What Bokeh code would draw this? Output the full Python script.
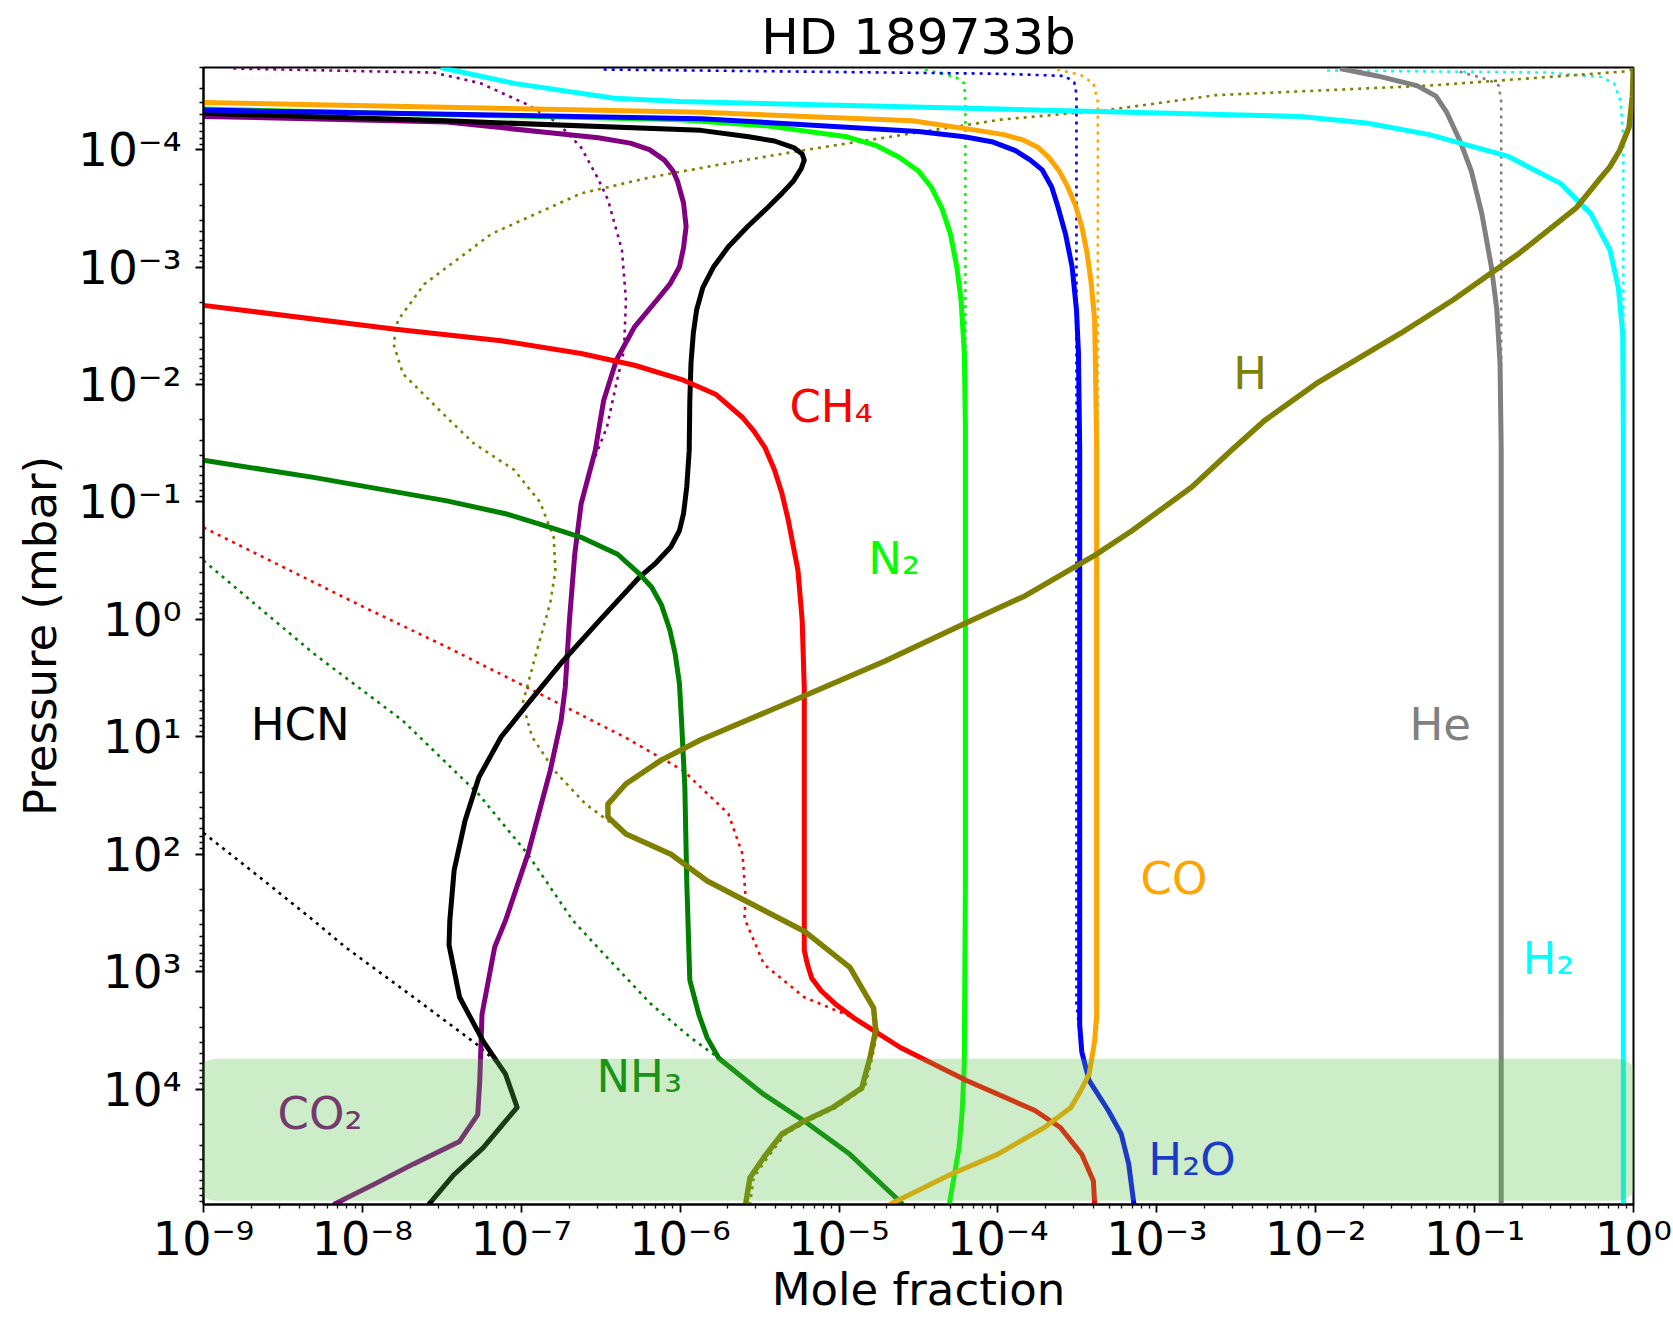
import math
from bokeh.plotting import figure
from bokeh.models import Range1d, FixedTicker, BoxAnnotation
from bokeh.core.properties import value
from bokeh.embed import file_html
from bokeh.resources import INLINE

# ---------------- data (mole fraction, pressure in mbar) ----------------
# solid lines: model profiles ; *_eq: dotted lines
H2_x = [3.1e-8, 9.0e-8, 3.85e-7, 1.0e-6, 1.04e-4, 8.0e-3, 2.09e-2, 5.2e-2, 0.161, 0.349, 0.538, 0.711, 0.804, 0.855, 0.863, 0.863]
H2_p = [2.0e-5, 2.73e-5, 3.66e-5, 3.9e-5, 4.52e-5, 5.22e-5, 5.93e-5, 7.46e-5, 1.135e-4, 1.95e-4, 3.51e-4, 7.16e-4, 1.52e-3, 3.66e-3, 2.31e-2, 9.6e4]
H2_eq_x = [1.18e-2, 0.29, 0.628, 0.755, 0.83, 0.863, 0.863]
H2_eq_p = [2.12e-5, 2.21e-5, 2.41e-5, 2.73e-5, 3.9e-5, 8.1e-5, 9.6e4]

He_x = [1.42e-2, 2.44e-2, 4.33e-2, 5.71e-2, 6.67e-2, 8.04e-2, 9.53e-2, 0.111, 0.1276, 0.138, 0.1445, 0.147, 0.147]
He_p = [2.04e-5, 2.36e-5, 2.85e-5, 3.51e-5, 4.81e-5, 8.28e-5, 1.52e-4, 3.51e-4, 1.0e-3, 2.31e-3, 6.58e-3, 3.51e-2, 9.6e4]
He_eq_x = [8.04e-2, 0.124, 0.142, 0.147, 0.147]
He_eq_p = [2.17e-5, 2.56e-5, 2.85e-5, 3.9e-5, 9.6e4]

H_x = [0.998, 0.984, 0.938, 0.817, 0.711, 0.60, 0.44, 0.191, 7.31e-2, 3.43e-2, 1.01e-2, 4.74e-3,
       2.93e-3, 1.66e-3, 6.97e-4, 4.06e-4, 1.48e-4, 6.14e-5, 1.95e-5, 5.77e-6, 1.35e-6, 7.6e-7,
       4.56e-7, 3.51e-7, 3.51e-7, 4.56e-7, 8.75e-7, 1.48e-6, 6.04e-6, 1.17e-5, 1.65e-5, 1.70e-5,
       1.57e-5, 1.39e-5, 9.16e-6, 6.04e-6, 4.37e-6, 3.36e-6, 2.75e-6, 2.58e-6]
H_p = [2.0e-5, 3.51e-5, 6.44e-5, 1.02e-4, 1.40e-4, 1.84e-4, 3.10e-4, 7.62e-4, 1.91e-3, 3.66e-3, 9.8e-3,
       2.04e-2, 3.66e-2, 7.46e-2, 0.176, 0.285, 0.631, 1.09, 2.26, 4.61, 10.6, 15.8, 25.1, 37.4, 48.1,
       67.1, 100, 169, 452, 920, 2040, 3160, 5330, 9790, 1.43e4, 1.87e4, 2.41e4, 3.82e4, 5.69e4, 9.6e4]
H_eq_x = [0.984, 0.855, 5.21e-2, 2.36e-3, 4.88e-4, 1.04e-4, 5.77e-6, 1.95e-6, 6.52e-7, 2.38e-7, 6.5e-8,
          2.45e-8, 1.67e-8, 1.57e-8, 1.80e-8, 3.40e-8, 5.0e-8, 9.0e-8, 1.31e-7, 1.60e-7, 1.64e-7,
          1.52e-7, 1.24e-7, 1.02e-7, 1.17e-7, 1.62e-7, 2.54e-7, 4.56e-7, 8.75e-7, 1.48e-6, 6.04e-6,
          1.17e-5, 1.65e-5, 1.75e-5, 1.62e-5, 1.45e-5, 9.6e-6, 6.4e-6, 4.6e-6, 3.55e-6, 2.9e-6, 2.75e-6]
H_eq_p = [2.08e-5, 2.17e-5, 2.85e-5, 3.44e-5, 4.61e-5, 5.56e-5, 1.02e-4, 1.31e-4, 1.72e-4, 2.36e-4,
          5.22e-4, 1.40e-3, 2.85e-3, 4.52e-3, 8.1e-3, 1.91e-2, 3.16e-2, 5.33e-2, 0.1, 0.2, 0.382, 0.731,
          1.95, 5.22, 10, 19.5, 37.4, 67.1, 100, 169, 452, 920, 2040, 3160, 5330, 9790, 1.43e4, 1.87e4,
          2.41e4, 3.82e4, 5.69e4, 9.6e4]

CO_x = [1e-9, 1.35e-6, 2.88e-5, 7.4e-5, 1.09e-4, 1.44e-4, 1.79e-4, 2.08e-4, 2.43e-4, 2.75e-4, 3.07e-4,
        3.37e-4, 3.64e-4, 3.87e-4, 4.06e-4, 4.11e-4, 4.18e-4, 4.18e-4, 4.06e-4, 3.75e-4, 3.31e-4,
        2.88e-4, 1.96e-4, 9.93e-5, 5.02e-5, 2.08e-5]
CO_p = [3.98e-5, 4.81e-5, 5.69e-5, 6.86e-5, 7.46e-5, 8.28e-5, 9.6e-5, 1.16e-4, 1.52e-4, 2.08e-4, 2.97e-4,
        4.52e-4, 7.62e-4, 1.40e-3, 2.85e-3, 7.16e-3, 3.51e-2, 2310, 3900, 7460, 1.04e4, 1.43e4, 2.12e4,
        3.59e4, 5.33e4, 9.6e4]
CO_eq_x = [2.36e-4, 3.31e-4, 3.99e-4, 4.25e-4, 4.25e-4, 4.06e-4, 3.75e-4, 3.31e-4, 2.88e-4, 1.96e-4,
           9.93e-5, 5.02e-5, 2.08e-5]
CO_eq_p = [2.08e-5, 2.31e-5, 2.73e-5, 3.9e-5, 2850, 3900, 7460, 1.04e4, 1.43e4, 2.12e4, 3.59e4, 5.33e4, 9.6e4]

H2O_x = [1e-9, 1.35e-6, 1.12e-5, 3.16e-5, 6.14e-5, 9.33e-5, 1.29e-4, 1.60e-4, 1.90e-4, 2.18e-4, 2.39e-4,
         2.67e-4, 2.93e-4, 3.12e-4, 3.21e-4, 3.27e-4, 3.27e-4, 3.37e-4, 3.75e-4, 4.95e-4, 5.97e-4,
         6.65e-4, 7.18e-4]
H2O_p = [4.61e-5, 5.45e-5, 6.44e-5, 7.0e-5, 7.78e-5, 8.63e-5, 1.02e-4, 1.23e-4, 1.49e-4, 2.08e-4, 3.10e-4,
         5.33e-4, 1.0e-3, 2.31e-3, 5.33e-3, 3.51e-2, 2850, 4810, 8450, 1.52e4, 2.41e4, 4.33e4, 9.6e4]
H2O_eq_x = [3.30e-7, 1.04e-4, 2.63e-4, 3.02e-4, 3.12e-4, 3.12e-4, 3.37e-4, 3.75e-4, 4.95e-4, 5.97e-4, 6.65e-4, 7.18e-4]
H2O_eq_p = [2.08e-5, 2.26e-5, 2.36e-5, 2.67e-5, 3.37e-5, 1875, 4810, 8450, 1.52e4, 2.41e4, 4.33e4, 9.6e4]

N2_x = [1e-9, 1.0e-6, 3.62e-6, 1.12e-5, 1.70e-5, 2.39e-5, 3.16e-5, 3.80e-5, 4.44e-5, 5.02e-5, 5.51e-5,
        5.86e-5, 6.14e-5, 6.24e-5, 6.24e-5, 6.14e-5, 5.96e-5, 5.69e-5, 4.94e-5]
N2_p = [4.52e-5, 5.56e-5, 6.31e-5, 7.78e-5, 9.2e-5, 1.16e-4, 1.52e-4, 2.08e-4, 3.16e-4, 5.22e-4, 1.0e-3,
        1.91e-3, 5.33e-3, 2.31e-2, 169, 6180, 1.52e4, 3.16e4, 9.6e4]
N2_eq_x = [3.47e-5, 5.43e-5, 6.14e-5, 6.24e-5, 6.24e-5, 6.14e-5, 5.96e-5, 5.69e-5, 4.94e-5]
N2_eq_p = [2.08e-5, 2.41e-5, 2.73e-5, 3.9e-5, 169, 6180, 1.52e4, 3.16e4, 9.6e4]

CH4_x = [1e-9, 1.57e-8, 7.48e-8, 2.38e-7, 5.16e-7, 1.05e-6, 1.67e-6, 2.47e-6, 2.92e-6, 3.41e-6, 3.92e-6,
         4.37e-6, 4.79e-6, 5.51e-6, 5.86e-6, 6.04e-6, 6.04e-6, 6.32e-6, 6.73e-6, 7.74e-6, 9.62e-6,
         1.23e-5, 2.43e-5, 6.34e-5, 1.71e-4, 2.47e-4, 3.37e-4, 3.99e-4, 4.06e-4]
CH4_p = [2.12e-3, 3.37e-3, 4.24e-3, 5.45e-3, 6.86e-3, 9.2e-3, 1.21e-2, 1.91e-2, 2.51e-2, 3.43e-2, 5.33e-2,
         8.45e-2, 0.143, 0.382, 1.02, 3.82, 658, 863, 1135, 1460, 1914, 2460, 4420, 8450, 1.52e4, 2.12e4,
         3.59e4, 6.05e4, 9.6e4]
CH4_eq_x = [1e-9, 9.42e-9, 3.40e-8, 1.24e-7, 4.56e-7, 1.05e-6, 2.01e-6, 2.47e-6, 2.58e-6, 2.54e-6, 3.36e-6,
            6.04e-6, 1.23e-5, 2.43e-5, 6.34e-5, 1.71e-4, 2.47e-4, 3.37e-4, 3.99e-4, 4.06e-4]
CH4_eq_p = [0.165, 0.746, 1.72, 4.15, 10.2, 19.5, 45.2, 100, 231, 351, 863, 1650, 2460, 4420, 8450,
            1.52e4, 2.12e4, 3.59e4, 6.05e4, 9.6e4]

NH3_x = [1e-9, 4.92e-9, 3.40e-8, 7.96e-8, 1.52e-7, 2.38e-7, 4.04e-7, 5.5e-7, 6.62e-7, 7.6e-7, 8.61e-7,
         9.29e-7, 9.89e-7, 1.02e-6, 1.07e-6, 1.10e-6, 1.15e-6, 1.31e-6, 1.48e-6, 1.75e-6, 3.36e-6,
         6.04e-6, 1.17e-5, 2.29e-5, 2.51e-5]
NH3_p = [4.42e-2, 6.18e-2, 9.8e-2, 0.126, 0.165, 0.2, 0.279, 0.406, 0.533, 0.746, 1.23, 1.95, 3.51, 7.31,
         26.7, 169, 1180, 2310, 3660, 5450, 1.11e4, 1.87e4, 3.59e4, 8.45e4, 9.6e4]
NH3_eq_x = [1e-9, 4.92e-9, 1.80e-8, 5.41e-8, 1.10e-7, 2.11e-7, 3.15e-7, 6.52e-7, 1.17e-6, 1.75e-6, 3.36e-6,
            6.04e-6, 1.17e-5, 2.29e-5, 2.51e-5]
NH3_eq_p = [0.316, 1.95, 7.31, 31.0, 100, 366, 658, 1875, 3660, 5450, 1.11e4, 1.87e4, 3.59e4, 8.45e4, 9.6e4]

HCN_x = [1e-9, 3.40e-8, 1.35e-6, 2.70e-6, 3.92e-6, 5.18e-6, 5.86e-6, 6.04e-6, 5.77e-6, 5.18e-6, 4.37e-6,
         3.57e-6, 2.66e-6, 2.01e-6, 1.62e-6, 1.39e-6, 1.27e-6, 1.21e-6, 1.17e-6, 1.15e-6, 1.14e-6,
         1.10e-6, 1.05e-6, 9.89e-7, 8.75e-7, 7.05e-7, 5.5e-7, 3.11e-7, 1.83e-7, 1.10e-7, 7.48e-8,
         5.41e-8, 4.42e-8, 3.78e-8, 3.55e-8, 3.51e-8, 4.09e-8, 5.75e-8, 7.96e-8, 9.42e-8, 7.96e-8,
         5.75e-8, 3.78e-8, 2.61e-8]
HCN_p = [4.91e-5, 5.69e-5, 6.86e-5, 7.78e-5, 8.45e-5, 9.6e-5, 1.09e-4, 1.23e-4, 1.46e-4, 1.84e-4, 2.36e-4,
         3.10e-4, 4.52e-4, 6.72e-4, 1.0e-3, 1.49e-3, 2.31e-3, 3.66e-3, 6.58e-3, 1.37e-2, 3.66e-2, 7.46e-2,
         0.126, 0.176, 0.241, 0.33, 0.442, 1.02, 2.26, 5.22, 10, 22.1, 52.2, 137, 366, 593, 1650, 3900,
         7460, 1.43e4, 1.87e4, 3.16e4, 5.33e4, 9.6e4]
HCN_eq_x = [1e-9, 2.42e-9, 4.92e-9, 7.82e-9, 2.10e-8, 5.24e-8, 6.8e-8, 7.96e-8, 9.42e-8, 7.96e-8, 5.75e-8,
            3.78e-8, 2.61e-8]
HCN_eq_p = [65.8, 169, 366, 618, 1650, 4150, 5690, 7460, 1.43e4, 1.87e4, 3.16e4, 5.33e4, 9.6e4]

CO2_x = [1e-9, 3.40e-8, 1.46e-7, 3.05e-7, 4.85e-7, 6.41e-7, 7.96e-7, 9.02e-7, 9.6e-7, 1.05e-6, 1.09e-6,
         1.05e-6, 9.89e-7, 8.61e-7, 7.14e-7, 5.16e-7, 3.97e-7, 3.30e-7, 2.92e-7, 2.38e-7, 2.17e-7,
         2.01e-7, 1.89e-7, 1.78e-7, 1.52e-7, 1.10e-7, 7.96e-8, 6.8e-8, 5.66e-8, 5.48e-8, 5.32e-8,
         4.09e-8, 2.10e-8, 1.19e-8, 6.59e-9]
CO2_p = [5.22e-5, 5.81e-5, 7.16e-5, 7.94e-5, 8.81e-5, 1.0e-4, 1.23e-4, 1.52e-4, 1.84e-4, 2.85e-4, 4.52e-4,
         6.86e-4, 1.0e-3, 1.40e-3, 1.91e-3, 3.23e-3, 6.18e-3, 1.37e-2, 3.66e-2, 0.104, 0.279, 1.02, 3.82,
         7.31, 19.5, 100, 366, 618, 2310, 8450, 1.65e4, 2.79e4, 4.33e4, 6.44e4, 9.6e4]
CO2_eq_x = [1.54e-9, 2.82e-8, 5.57e-8, 1.10e-7, 1.70e-7, 2.38e-7, 3.01e-7, 3.51e-7, 4.30e-7, 4.56e-7,
            4.43e-7, 3.97e-7, 3.46e-7, 2.70e-7, 2.38e-7, 2.17e-7, 2.01e-7, 1.89e-7, 1.78e-7, 1.52e-7,
            1.10e-7, 7.96e-8, 6.8e-8, 5.66e-8, 5.48e-8, 5.32e-8, 4.09e-8, 2.10e-8, 1.19e-8, 6.59e-9]
CO2_eq_p = [2.04e-5, 2.21e-5, 2.73e-5, 4.15e-5, 5.93e-5, 9.6e-5, 1.72e-4, 2.67e-4, 7.16e-4, 1.91e-3,
            5.12e-3, 9.8e-3, 2.31e-2, 5.33e-2, 0.104, 0.279, 1.02, 3.82, 7.31, 19.5, 100, 366, 618, 2310,
            8450, 1.65e4, 2.79e4, 4.33e4, 6.44e4, 9.6e4]

species_names = ["CO2", "HCN", "NH3", "N2", "CH4", "H2O", "CO", "He", "H2", "H"]
species_colors = ["purple", "black", "green", "lime", "red", "blue", "orange", "gray", "cyan", "olive"]

label_text = ["CH₄", "H", "N₂", "HCN", "He", "CO", "H₂", "NH₃", "CO₂", "H₂O"]
label_x = [5.16e-6, 3.21e-3, 1.62e-5, 2.10e-9, 4.12e-2, 8.36e-4, 0.212, 3.15e-7, 3.10e-9, 9.37e-4]
label_p = [2.02e-2, 1.06e-2, 0.398, 10.3, 10.3, 212, 1016, 1.03e4, 2.12e4, 5.22e4]
label_color = ["red", "olive", "lime", "black", "gray", "orange", "cyan", "green", "purple", "blue"]

x_tick_values = [1e-9, 1e-8, 1e-7, 1e-6, 1e-5, 1e-4, 1e-3, 1e-2, 1e-1, 1.0]
x_tick_labels = ["10⁻⁹", "10⁻⁸", "10⁻⁷", "10⁻⁶", "10⁻⁵", "10⁻⁴", "10⁻³", "10⁻²", "10⁻¹", "10⁰"]
y_tick_values = [1e-4, 1e-3, 1e-2, 1e-1, 1.0, 1e1, 1e2, 1e3, 1e4]
y_tick_labels = ["10⁻⁴", "10⁻³", "10⁻²", "10⁻¹", "10⁰", "10¹", "10²", "10³", "10⁴"]

series = {
    "H2": (H2_x, H2_p, H2_eq_x, H2_eq_p), "He": (He_x, He_p, He_eq_x, He_eq_p),
    "H": (H_x, H_p, H_eq_x, H_eq_p), "CO": (CO_x, CO_p, CO_eq_x, CO_eq_p),
    "H2O": (H2O_x, H2O_p, H2O_eq_x, H2O_eq_p), "N2": (N2_x, N2_p, N2_eq_x, N2_eq_p),
    "CH4": (CH4_x, CH4_p, CH4_eq_x, CH4_eq_p), "NH3": (NH3_x, NH3_p, NH3_eq_x, NH3_eq_p),
    "HCN": (HCN_x, HCN_p, HCN_eq_x, HCN_eq_p), "CO2": (CO2_x, CO2_p, CO2_eq_x, CO2_eq_p),
}

FONT = "DejaVu Sans"

p = figure(width=1673, height=1319, x_axis_type="log", y_axis_type="log",
           x_range=Range1d(1e-9, 1.0), y_range=Range1d(9.6e4, 2.0e-5),
           output_backend="svg", toolbar_location=None, title="HD 189733b",
           min_border_left=203, min_border_right=40, min_border_top=67, min_border_bottom=115)
p.background_fill_color = "white"
p.border_fill_color = "white"
p.xgrid.visible = False
p.ygrid.visible = False
p.outline_line_color = "black"
p.outline_line_width = 2

p.title.text_font = FONT
p.title.text_font_size = "50px"
p.title.text_font_style = "normal"
p.title.text_color = "black"
p.title.align = "center"
p.title.standoff = 4

x_minor = [k * 10.0 ** n for n in range(-9, 0) for k in range(2, 10)]
y_minor = [k * 10.0 ** n for n in range(-5, 5) for k in range(2, 10)]
p.xaxis.ticker = FixedTicker(ticks=x_tick_values, minor_ticks=x_minor)
p.yaxis.ticker = FixedTicker(ticks=y_tick_values, minor_ticks=y_minor)
p.xaxis.major_label_overrides = dict(zip(x_tick_values, x_tick_labels))
p.yaxis.major_label_overrides = dict(zip(y_tick_values, y_tick_labels))
for ax in (p.xaxis, p.yaxis):
    ax.axis_line_width = 2
    ax.axis_line_color = "black"
    ax.major_tick_out = 8
    ax.major_tick_in = 0
    ax.minor_tick_out = 4
    ax.minor_tick_in = 0
    ax.major_tick_line_width = 1.8
    ax.minor_tick_line_width = 1.3
    ax.major_label_text_font = FONT
    ax.major_label_text_color = "black"
    ax.axis_label_text_font = FONT
    ax.axis_label_text_font_size = "45px"
    ax.axis_label_text_font_style = "normal"
    ax.axis_label_text_color = "black"
p.xaxis.major_label_text_font_size = "46px"
p.yaxis.major_label_text_font_size = "47px"
p.xaxis.major_label_standoff = -1
p.yaxis.major_label_standoff = 14
p.xaxis.axis_label = "Mole fraction"
p.yaxis.axis_label = "Pressure (mbar)"
p.xaxis.axis_label_standoff = -6
p.yaxis.axis_label_standoff = 8

# dotted profiles first, solid profiles on top
for name, col in zip(species_names, species_colors):
    sx, sp, ex, ep = series[name]
    p.line(ex, ep, line_color=col, line_width=2.6, line_dash="3 5", line_cap="butt")
for name, col in zip(species_names, species_colors):
    sx, sp, ex, ep = series[name]
    lw = 5.5 if name == "H" else 5
    p.line(sx, sp, line_color=col, line_width=lw, line_join="round")

p.text(x=label_x, y=label_p, text=label_text, text_color=label_color,
       text_font=value(FONT), text_font_size="45px", text_align="left",
       text_baseline="alphabetic", x_offset=-4, y_offset=-14)

box = BoxAnnotation(left=8.77e-10, right=1.074, top=5510, bottom=8.93e4,
                    fill_color="#58C048", fill_alpha=0.3, line_color=None, border_radius=22)
p.add_layout(box)

open("out.html", "w").write(file_html(p, INLINE))
